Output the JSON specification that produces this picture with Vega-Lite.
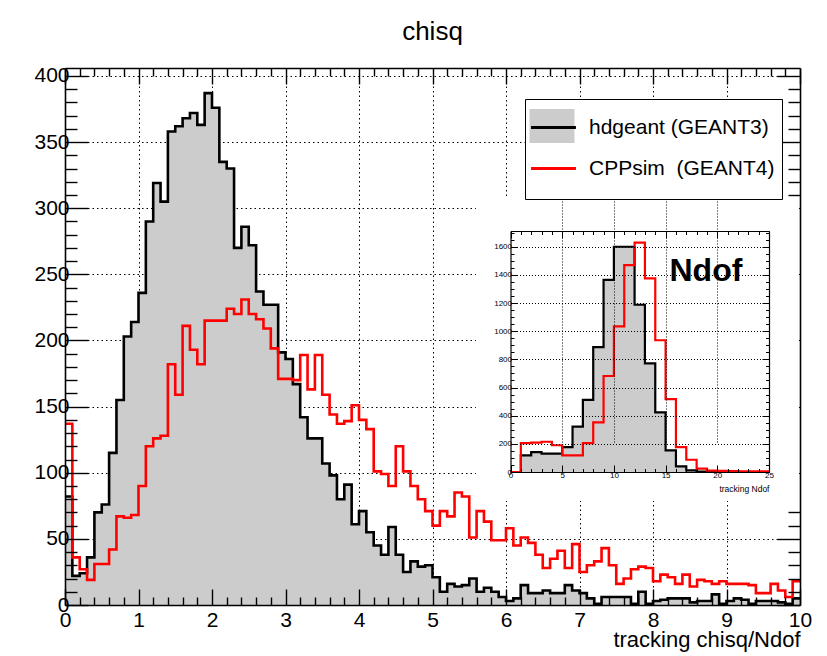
{
  "$schema": "https://vega.github.io/schema/vega-lite/v6.json",
  "width": 735,
  "height": 537,
  "autosize": {"type": "none"},
  "padding": {"left": 65, "top": 68, "right": 27, "bottom": 51},
  "background": "white",
  "config": {
    "view": {"stroke": null},
    "font": "Liberation Sans",
    "axis": {"labelFont": "Liberation Sans", "titleFont": "Liberation Sans", "labelColor": "#000000", "titleColor": "#000000", "tickColor": "#000000", "domainColor": "#000000", "titleFontWeight": "normal"}
  },
  "title": {"text": "chisq", "fontSize": 26, "fontWeight": "normal", "font": "Liberation Sans", "color": "#000000", "anchor": "middle", "offset": 20},
  "datasets": {
    "main": [
      {"lo":0,"hi":0.1,"hd":82,"cpp":137},{"lo":0.1,"hi":0.2,"hd":22,"cpp":36},{"lo":0.2,"hi":0.3,"hd":24,"cpp":27},{"lo":0.3,"hi":0.4,"hd":36,"cpp":19},{"lo":0.4,"hi":0.5,"hd":70,"cpp":31},
      {"lo":0.5,"hi":0.6,"hd":76,"cpp":31},{"lo":0.6,"hi":0.7,"hd":115,"cpp":42},{"lo":0.7,"hi":0.8,"hd":155,"cpp":67},{"lo":0.8,"hi":0.9,"hd":203,"cpp":66},{"lo":0.9,"hi":1,"hd":214,"cpp":68},
      {"lo":1,"hi":1.1,"hd":236,"cpp":90},{"lo":1.1,"hi":1.2,"hd":290,"cpp":120},{"lo":1.2,"hi":1.3,"hd":319,"cpp":126},{"lo":1.3,"hi":1.4,"hd":305,"cpp":128},{"lo":1.4,"hi":1.5,"hd":358,"cpp":182},
      {"lo":1.5,"hi":1.6,"hd":362,"cpp":159},{"lo":1.6,"hi":1.7,"hd":368,"cpp":211},{"lo":1.7,"hi":1.8,"hd":372,"cpp":193},{"lo":1.8,"hi":1.9,"hd":363,"cpp":182},{"lo":1.9,"hi":2,"hd":387,"cpp":215},
      {"lo":2,"hi":2.1,"hd":376,"cpp":215},{"lo":2.1,"hi":2.2,"hd":335,"cpp":215},{"lo":2.2,"hi":2.3,"hd":330,"cpp":224},{"lo":2.3,"hi":2.4,"hd":270,"cpp":220},{"lo":2.4,"hi":2.5,"hd":286,"cpp":231},
      {"lo":2.5,"hi":2.6,"hd":272,"cpp":220},{"lo":2.6,"hi":2.7,"hd":237,"cpp":216},{"lo":2.7,"hi":2.8,"hd":227,"cpp":209},{"lo":2.8,"hi":2.9,"hd":227,"cpp":194},{"lo":2.9,"hi":3,"hd":191,"cpp":171},
      {"lo":3,"hi":3.1,"hd":186,"cpp":171},{"lo":3.1,"hi":3.2,"hd":167,"cpp":170},{"lo":3.2,"hi":3.3,"hd":142,"cpp":189},{"lo":3.3,"hi":3.4,"hd":126,"cpp":163},{"lo":3.4,"hi":3.5,"hd":126,"cpp":189},
      {"lo":3.5,"hi":3.6,"hd":107,"cpp":159},{"lo":3.6,"hi":3.7,"hd":98,"cpp":144},{"lo":3.7,"hi":3.8,"hd":80,"cpp":137},{"lo":3.8,"hi":3.9,"hd":91,"cpp":139},{"lo":3.9,"hi":4,"hd":61,"cpp":151},
      {"lo":4,"hi":4.1,"hd":71,"cpp":140},{"lo":4.1,"hi":4.2,"hd":55,"cpp":133},{"lo":4.2,"hi":4.3,"hd":45,"cpp":101},{"lo":4.3,"hi":4.4,"hd":38,"cpp":99},{"lo":4.4,"hi":4.5,"hd":59,"cpp":90},
      {"lo":4.5,"hi":4.6,"hd":38,"cpp":120},{"lo":4.6,"hi":4.7,"hd":25,"cpp":101},{"lo":4.7,"hi":4.8,"hd":33,"cpp":90},{"lo":4.8,"hi":4.9,"hd":29,"cpp":80},{"lo":4.9,"hi":5,"hd":30,"cpp":71},
      {"lo":5,"hi":5.1,"hd":21,"cpp":60},{"lo":5.1,"hi":5.2,"hd":10,"cpp":71},{"lo":5.2,"hi":5.3,"hd":16,"cpp":67},{"lo":5.3,"hi":5.4,"hd":14,"cpp":85},{"lo":5.4,"hi":5.5,"hd":15,"cpp":82},
      {"lo":5.5,"hi":5.6,"hd":20,"cpp":51},{"lo":5.6,"hi":5.7,"hd":10,"cpp":71},{"lo":5.7,"hi":5.8,"hd":13,"cpp":63},{"lo":5.8,"hi":5.9,"hd":10,"cpp":49},{"lo":5.9,"hi":6,"hd":6,"cpp":49},
      {"lo":6,"hi":6.1,"hd":3,"cpp":58},{"lo":6.1,"hi":6.2,"hd":5,"cpp":45},{"lo":6.2,"hi":6.3,"hd":15,"cpp":51},{"lo":6.3,"hi":6.4,"hd":9,"cpp":47},{"lo":6.4,"hi":6.5,"hd":9,"cpp":38},
      {"lo":6.5,"hi":6.6,"hd":11,"cpp":28},{"lo":6.6,"hi":6.7,"hd":9,"cpp":35},{"lo":6.7,"hi":6.8,"hd":9,"cpp":41},{"lo":6.8,"hi":6.9,"hd":15,"cpp":28},{"lo":6.9,"hi":7,"hd":11,"cpp":46},
      {"lo":7,"hi":7.1,"hd":9,"cpp":25},{"lo":7.1,"hi":7.2,"hd":5,"cpp":30},{"lo":7.2,"hi":7.3,"hd":1,"cpp":33},{"lo":7.3,"hi":7.4,"hd":6,"cpp":43},{"lo":7.4,"hi":7.5,"hd":6,"cpp":30},
      {"lo":7.5,"hi":7.6,"hd":6,"cpp":16},{"lo":7.6,"hi":7.7,"hd":6,"cpp":20},{"lo":7.7,"hi":7.8,"hd":1,"cpp":27},{"lo":7.8,"hi":7.9,"hd":10,"cpp":29},{"lo":7.9,"hi":8,"hd":1,"cpp":28},
      {"lo":8,"hi":8.1,"hd":3,"cpp":18},{"lo":8.1,"hi":8.2,"hd":4,"cpp":23},{"lo":8.2,"hi":8.3,"hd":5,"cpp":21},{"lo":8.3,"hi":8.4,"hd":5,"cpp":16},{"lo":8.4,"hi":8.5,"hd":5,"cpp":23},
      {"lo":8.5,"hi":8.6,"hd":2,"cpp":14},{"lo":8.6,"hi":8.7,"hd":3,"cpp":19},{"lo":8.7,"hi":8.8,"hd":3,"cpp":18},{"lo":8.8,"hi":8.9,"hd":8,"cpp":16},{"lo":8.9,"hi":9,"hd":1,"cpp":18},
      {"lo":9,"hi":9.1,"hd":3,"cpp":16},{"lo":9.1,"hi":9.2,"hd":5,"cpp":16},{"lo":9.2,"hi":9.3,"hd":4,"cpp":16},{"lo":9.3,"hi":9.4,"hd":1,"cpp":15},{"lo":9.4,"hi":9.5,"hd":3,"cpp":9},
      {"lo":9.5,"hi":9.6,"hd":3,"cpp":9},{"lo":9.6,"hi":9.7,"hd":3,"cpp":16},{"lo":9.7,"hi":9.8,"hd":2,"cpp":11},{"lo":9.8,"hi":9.9,"hd":1,"cpp":6},{"lo":9.9,"hi":10,"hd":5,"cpp":18}
    ],
    "ndof": [
      {"lo":0,"hi":1,"hd":0,"cpp":0},{"lo":1,"hi":2,"hd":118,"cpp":205},{"lo":2,"hi":3,"hd":141,"cpp":208},{"lo":3,"hi":4,"hd":130,"cpp":215},{"lo":4,"hi":5,"hd":130,"cpp":190},
      {"lo":5,"hi":6,"hd":176,"cpp":118},{"lo":6,"hi":7,"hd":322,"cpp":118},{"lo":7,"hi":8,"hd":513,"cpp":205},{"lo":8,"hi":9,"hd":887,"cpp":353},{"lo":9,"hi":10,"hd":1365,"cpp":682},
      {"lo":10,"hi":11,"hd":1600,"cpp":1035},{"lo":11,"hi":12,"hd":1600,"cpp":1470},{"lo":12,"hi":13,"hd":1188,"cpp":1630},{"lo":13,"hi":14,"hd":772,"cpp":1376},{"lo":14,"hi":15,"hd":424,"cpp":936},
      {"lo":15,"hi":16,"hd":153,"cpp":518},{"lo":16,"hi":17,"hd":40,"cpp":176},{"lo":17,"hi":18,"hd":12,"cpp":87},{"lo":18,"hi":19,"hd":3,"cpp":24},{"lo":19,"hi":20,"hd":1,"cpp":10},
      {"lo":20,"hi":21,"hd":0,"cpp":8},{"lo":21,"hi":22,"hd":0,"cpp":6},{"lo":22,"hi":23,"hd":0,"cpp":5},{"lo":23,"hi":24,"hd":0,"cpp":4},{"lo":24,"hi":25,"hd":0,"cpp":4}
    ]
  },
  "layer": [
    {
      "data": {"name": "main"},
      "transform": [{"fold": ["lo", "hi"], "as": ["edge", "x"]}],
      "layer": [
        {
          "mark": {"type": "area", "interpolate": "linear"},
          "encoding": {
            "x": {"field": "x", "type": "quantitative", "scale": {"domain": [0, 10], "nice": false, "zero": false},
              "axis": {"orient": "bottom", "values": [1,2,3,4,5,6,7,8,9], "grid": true, "gridColor": "#000000", "gridDash": [1.5, 3], "gridWidth": 1, "ticks": false, "labels": false, "domain": false, "title": null, "zindex": 0}},
            "y": {"field": "hd", "type": "quantitative", "stack": null, "scale": {"domain": [0, 406], "nice": false},
              "axis": {"orient": "left", "values": [50,100,150,200,250,300,350,400], "grid": true, "gridColor": "#000000", "gridDash": [1.5, 3], "gridWidth": 1, "ticks": false, "labels": false, "domain": false, "title": null, "zindex": 0}},
            "order": {"value": null},
            "fill": {"datum": "hdgeant (GEANT3)", "scale": {"domain": ["hdgeant (GEANT3)", "CPPsim\u00a0\u00a0(GEANT4)"], "range": ["#cccccc", "rgba(255,255,255,0)"]},
              "legend": {"orient": "none", "legendX": 460, "legendY": 31, "title": null, "symbolType": "M-1.32,-1H1.32V1H-1.32Z", "symbolSize": 1156, "symbolStrokeWidth": 0, "labelFontSize": 21, "labelColor": "rgba(0,0,0,0)", "labelOffset": 17, "padding": 10, "rowPadding": 12, "fillColor": "#ffffff", "strokeColor": "#000000", "labelLimit": 400, "zindex": 1}}
          }
        },
        {
          "mark": {"type": "line", "strokeWidth": 2.6, "strokeJoin": "miter"},
          "encoding": {
            "x": {"field": "x", "type": "quantitative",
              "axis": {"orient": "bottom", "values": [0,0.2,0.4,0.6,0.8,1,1.2,1.4,1.6,1.8,2,2.2,2.4,2.6,2.8,3,3.2,3.4,3.6,3.8,4,4.2,4.4,4.6,4.8,5,5.2,5.4,5.6,5.8,6,6.2,6.4,6.6,6.8,7,7.2,7.4,7.6,7.8,8,8.2,8.4,8.6,8.8,9,9.2,9.4,9.6,9.8,10],
                "grid": false, "domain": true, "domainWidth": 1.6, "ticks": true, "tickWidth": 1.4,
                "tickSize": {"condition": {"test": "datum.value % 1 === 0", "value": -16}, "value": -8},
                "labelExpr": "datum.value % 1 === 0 ? format(datum.value, 'd') : ''", "labelFontSize": 21, "labelPadding": 20, "labelOverlap": false, "labelFlush": false, "labelBound": false,
                "title": "tracking chisq/Ndof", "titleFontSize": 22, "titleAnchor": "end", "titleAlign": "right", "titleBaseline": "alphabetic", "titleY": 41, "zindex": 1}},
            "y": {"field": "hd", "type": "quantitative",
              "axis": {"orient": "left", "values": [0,10,20,30,40,50,60,70,80,90,100,110,120,130,140,150,160,170,180,190,200,210,220,230,240,250,260,270,280,290,300,310,320,330,340,350,360,370,380,390,400],
                "grid": false, "domain": true, "domainWidth": 1.6, "ticks": true, "tickWidth": 1.4,
                "tickSize": {"condition": {"test": "datum.value % 50 === 0", "value": -23}, "value": -12},
                "labelExpr": "datum.value % 50 === 0 ? format(datum.value, 'd') : ''", "labelFontSize": 21, "labelPadding": 19, "labelOverlap": false, "labelFlush": false, "labelBound": false,
                "title": null, "zindex": 1}},
            "order": {"value": null},
            "stroke": {"datum": "hdgeant (GEANT3)", "scale": {"domain": ["hdgeant (GEANT3)", "CPPsim\u00a0 (GEANT4)"], "range": ["#000000", "#ff0000"]},
              "legend": {"orient": "none", "legendX": 460, "legendY": 31, "title": null, "symbolType": "M-1.32,0H1.32", "symbolSize": 1156, "symbolStrokeWidth": 3, "symbolFillColor": "rgba(0,0,0,0)", "labelFontSize": 21, "labelColor": "#000000", "labelOffset": 17, "padding": 10, "rowPadding": 12, "labelLimit": 400, "zindex": 1}}
          }
        },
        {
          "mark": {"type": "line", "strokeWidth": 2.6, "strokeJoin": "miter"},
          "encoding": {
            "x": {"field": "x", "type": "quantitative",
              "axis": {"orient": "top", "values": [0,0.2,0.4,0.6,0.8,1,1.2,1.4,1.6,1.8,2,2.2,2.4,2.6,2.8,3,3.2,3.4,3.6,3.8,4,4.2,4.4,4.6,4.8,5,5.2,5.4,5.6,5.8,6,6.2,6.4,6.6,6.8,7,7.2,7.4,7.6,7.8,8,8.2,8.4,8.6,8.8,9,9.2,9.4,9.6,9.8,10],
                "grid": false, "domain": true, "domainWidth": 1.6, "ticks": true, "tickWidth": 1.4,
                "tickSize": {"condition": {"test": "datum.value % 1 === 0", "value": -16}, "value": -8},
                "labels": false, "title": null, "zindex": 1}},
            "y": {"field": "cpp", "type": "quantitative",
              "axis": {"orient": "right", "values": [0,10,20,30,40,50,60,70,310,320,330,340,350,360,370,380,390,400],
                "grid": false, "domain": true, "domainWidth": 1.6, "ticks": true, "tickWidth": 1.4,
                "tickSize": {"condition": {"test": "datum.value % 50 === 0", "value": -23}, "value": -12},
                "labels": false, "title": null, "zindex": 1}},
            "order": {"value": null},
            "stroke": {"datum": "CPPsim\u00a0 (GEANT4)"}
          }
        }
      ],
      "resolve": {"axis": {"x": "independent", "y": "independent"}}
    },
    {
      "data": {"name": "ndof"},
      "transform": [{"fold": ["lo", "hi"], "as": ["edge", "x"]}],
      "layer": [
        {
          "data": {"values": [{}]},
          "mark": {"type": "rect", "fill": "#ffffff", "stroke": null},
          "encoding": {
            "x": {"datum": -3.35, "type": "quantitative", "scale": {"domain": [0, 25], "range": [445.5, 704], "nice": false, "zero": false}, "axis": null},
            "x2": {"datum": 27.85},
            "y": {"datum": -206, "type": "quantitative", "scale": {"domain": [0, 1712], "range": [404, 163], "nice": false, "zero": false}, "axis": null},
            "y2": {"datum": 1953}
          }
        },
        {
          "mark": {"type": "area", "interpolate": "linear", "color": "#cccccc"},
          "encoding": {
            "x": {"field": "x", "type": "quantitative", "scale": {"domain": [0, 25], "range": [445.5, 704], "nice": false, "zero": false},
              "axis": {"orient": "bottom", "offset": -133, "values": [5,10,15,20], "grid": true, "gridColor": "#000000", "gridDash": [1, 2], "gridWidth": 1, "ticks": false, "labels": false, "domain": false, "title": null, "zindex": 1}},
            "y": {"field": "hd", "type": "quantitative", "stack": null, "scale": {"domain": [0, 1712], "range": [404, 163], "nice": false, "zero": false},
              "axis": {"orient": "left", "offset": -445.5, "values": [200,400,600,800,1000,1200,1400,1600], "grid": true, "gridColor": "#000000", "gridDash": [1, 2], "gridWidth": 1, "ticks": false, "labels": false, "domain": false, "title": null, "zindex": 1}},
            "order": {"value": null}
          }
        },
        {
          "mark": {"type": "line", "strokeWidth": 2.2, "color": "#000000", "strokeJoin": "miter"},
          "encoding": {
            "x": {"field": "x", "type": "quantitative", "scale": {"domain": [0, 25], "range": [445.5, 704], "nice": false, "zero": false},
              "axis": {"orient": "bottom", "offset": -133, "values": [0,1,2,3,4,5,6,7,8,9,10,11,12,13,14,15,16,17,18,19,20,21,22,23,24,25],
                "grid": false, "domain": true, "domainWidth": 1.2, "ticks": true, "tickWidth": 1,
                "tickSize": {"condition": {"test": "datum.value % 5 === 0", "value": -7}, "value": -3.5},
                "labelExpr": "datum.value % 5 === 0 ? format(datum.value, 'd') : ''", "labelFontSize": 8, "labelPadding": 6, "labelOverlap": false, "labelFlush": false, "labelBound": false,
                "title": "tracking Ndof", "titleFontSize": 8.5, "titleAnchor": "end", "titleAlign": "right", "titleBaseline": "alphabetic", "titleY": 19, "zindex": 1}},
            "y": {"field": "hd", "type": "quantitative", "scale": {"domain": [0, 1712], "range": [404, 163], "nice": false, "zero": false},
              "axis": {"orient": "left", "offset": -445.5, "values": [0,50,100,150,200,250,300,350,400,450,500,550,600,650,700,750,800,850,900,950,1000,1050,1100,1150,1200,1250,1300,1350,1400,1450,1500,1550,1600,1650,1700],
                "grid": false, "domain": true, "domainWidth": 1.2, "ticks": true, "tickWidth": 1,
                "tickSize": {"condition": {"test": "datum.value % 200 === 0", "value": -7}, "value": -3.5},
                "labelExpr": "datum.value % 200 === 0 ? format(datum.value, 'd') : ''", "labelFontSize": 8, "labelPadding": 6, "labelOverlap": false, "labelFlush": false, "labelBound": false,
                "title": null, "zindex": 1}},
            "order": {"value": null}
          }
        },
        {
          "mark": {"type": "line", "strokeWidth": 2.2, "color": "#ff0000", "strokeJoin": "miter"},
          "encoding": {
            "x": {"field": "x", "type": "quantitative", "scale": {"domain": [0, 25], "range": [445.5, 704], "nice": false, "zero": false},
              "axis": {"orient": "top", "offset": -163, "values": [0,1,2,3,4,5,6,7,8,9,10,11,12,13,14,15,16,17,18,19,20,21,22,23,24,25],
                "grid": false, "domain": true, "domainWidth": 1.2, "ticks": true, "tickWidth": 1,
                "tickSize": {"condition": {"test": "datum.value % 5 === 0", "value": -7}, "value": -3.5},
                "labels": false, "title": null, "zindex": 1}},
            "y": {"field": "cpp", "type": "quantitative", "scale": {"domain": [0, 1712], "range": [404, 163], "nice": false, "zero": false},
              "axis": {"orient": "right", "offset": -31, "values": [0,50,100,150,200,250,300,350,400,450,500,550,600,650,700,750,800,850,900,950,1000,1050,1100,1150,1200,1250,1300,1350,1400,1450,1500,1550,1600,1650,1700],
                "grid": false, "domain": true, "domainWidth": 1.2, "ticks": true, "tickWidth": 1,
                "tickSize": {"condition": {"test": "datum.value % 200 === 0", "value": -7}, "value": -3.5},
                "labels": false, "title": null, "zindex": 1}},
            "order": {"value": null}
          }
        },
        {
          "data": {"values": [{"label": "Ndof"}]},
          "mark": {"type": "text", "fontSize": 32, "fontWeight": "bold", "font": "Liberation Sans", "color": "#000000", "align": "center", "baseline": "middle"},
          "encoding": {
            "x": {"datum": 18.9, "type": "quantitative", "scale": {"domain": [0, 25], "range": [445.5, 704], "nice": false, "zero": false}, "axis": null},
            "y": {"datum": 1427, "type": "quantitative", "scale": {"domain": [0, 1712], "range": [404, 163], "nice": false, "zero": false}, "axis": null},
            "text": {"field": "label"}
          }
        }
      ],
      "resolve": {"axis": {"x": "independent", "y": "independent"}}
    }
  ],
  "resolve": {"scale": {"x": "independent", "y": "independent"}, "axis": {"x": "independent", "y": "independent"}}
}
